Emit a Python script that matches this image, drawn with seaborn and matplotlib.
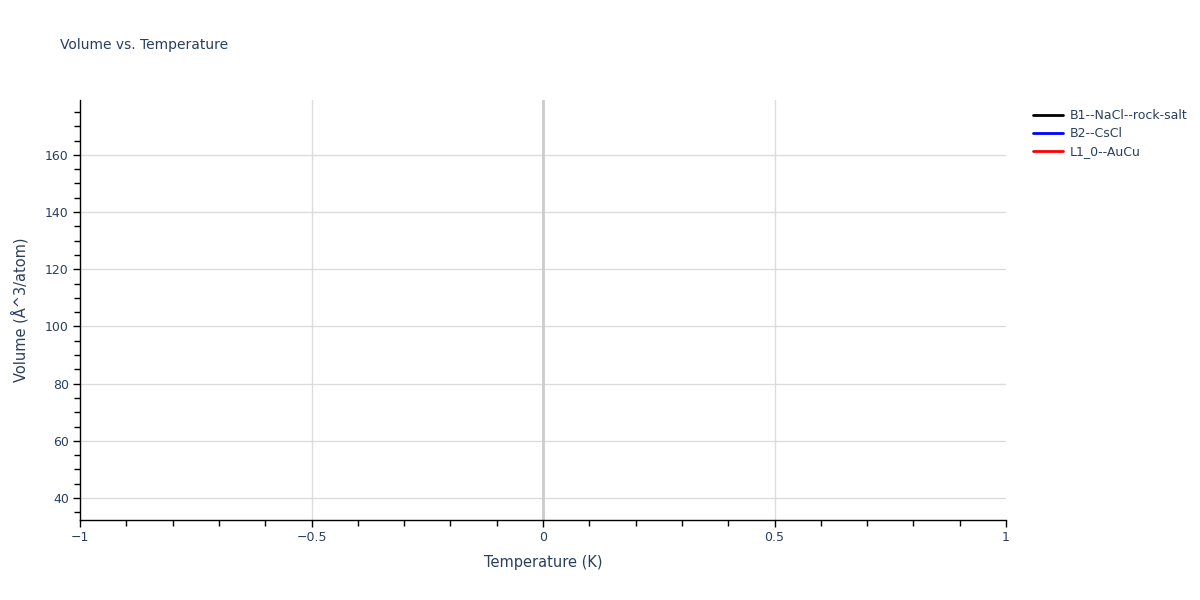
import numpy as np
import pandas as pd
import seaborn as sns
import matplotlib.pyplot as plt
from matplotlib.ticker import MultipleLocator, FuncFormatter

# each structure only has a single point at T = 0 K, so no line is visible
structures = ["B1--NaCl--rock-salt", "B2--CsCl", "L1_0--AuCu"]
temperatures = [0.0, 0.0, 0.0]
volumes = [44.0, 37.0, 174.0]
colors = ["black", "blue", "red"]
x_ticks = [-1, -0.5, 0, 0.5, 1]
y_ticks = [40, 60, 80, 100, 120, 140, 160]

df = pd.DataFrame({"Temperature": temperatures, "Volume": volumes, "Structure": structures})

sns.set_style("white")
plt.rcParams["font.family"] = ["DejaVu Sans"]
text_color = "#2a3f5f"

fig = plt.figure(figsize=(12, 6), dpi=100)
ax = fig.add_axes([80 / 1200, 80 / 600, 926 / 1200, 420 / 600])

sns.lineplot(data=df, x="Temperature", y="Volume", hue="Structure",
             palette=dict(zip(structures, colors)), ax=ax, legend=False)

ax.set_xlim(-1, 1)
ax.set_ylim(32.3, 179.2)
ax.set_xticks(x_ticks)
ax.xaxis.set_minor_locator(MultipleLocator(0.1))
ax.set_yticks(y_ticks)
ax.yaxis.set_minor_locator(MultipleLocator(5))
ax.xaxis.set_major_formatter(FuncFormatter(lambda v, p: f"{v:g}".replace("-", "\u2212")))

# grid: horizontal lines via the axis grid, vertical ones only inside the frame
ax.grid(True, axis="y", which="major", color="#dcdcdc", linewidth=1)
for xv in x_ticks[1:-1]:
    if xv == 0:
        ax.axvline(xv, color="#cccccc", linewidth=2, zorder=1)
    else:
        ax.axvline(xv, color="#dcdcdc", linewidth=1, zorder=1)
ax.set_axisbelow(True)

for side in ["top", "right"]:
    ax.spines[side].set_visible(False)
for side in ["left", "bottom"]:
    ax.spines[side].set_color("black")
    ax.spines[side].set_linewidth(1)

ax.tick_params(which="both", direction="out", color="black", width=1,
               labelsize=9, labelcolor=text_color, left=True, bottom=True)
ax.tick_params(which="major", length=5, pad=3)
ax.tick_params(which="minor", length=4)

ax.set_xlabel("Temperature (K)", fontsize=10.5, color=text_color, labelpad=8)
ax.set_ylabel("Volume (Å^3/atom)", fontsize=10.5, color=text_color, labelpad=12)
fig.text(60 / 1200, 1 - 45 / 600, "Volume vs. Temperature", fontsize=10,
         color=text_color, va="center", ha="left")

handles = [plt.Line2D([], [], color=c, linewidth=2) for c in colors]
fig.legend(handles, structures, loc="upper left",
           bbox_to_anchor=(1022 / 1200, 1 - 98 / 600), frameon=False,
           fontsize=9, labelcolor=text_color, handlelength=2.4,
           handletextpad=0.5, labelspacing=0.4)

plt.savefig("out.png", dpi=100)
plt.close(fig)
